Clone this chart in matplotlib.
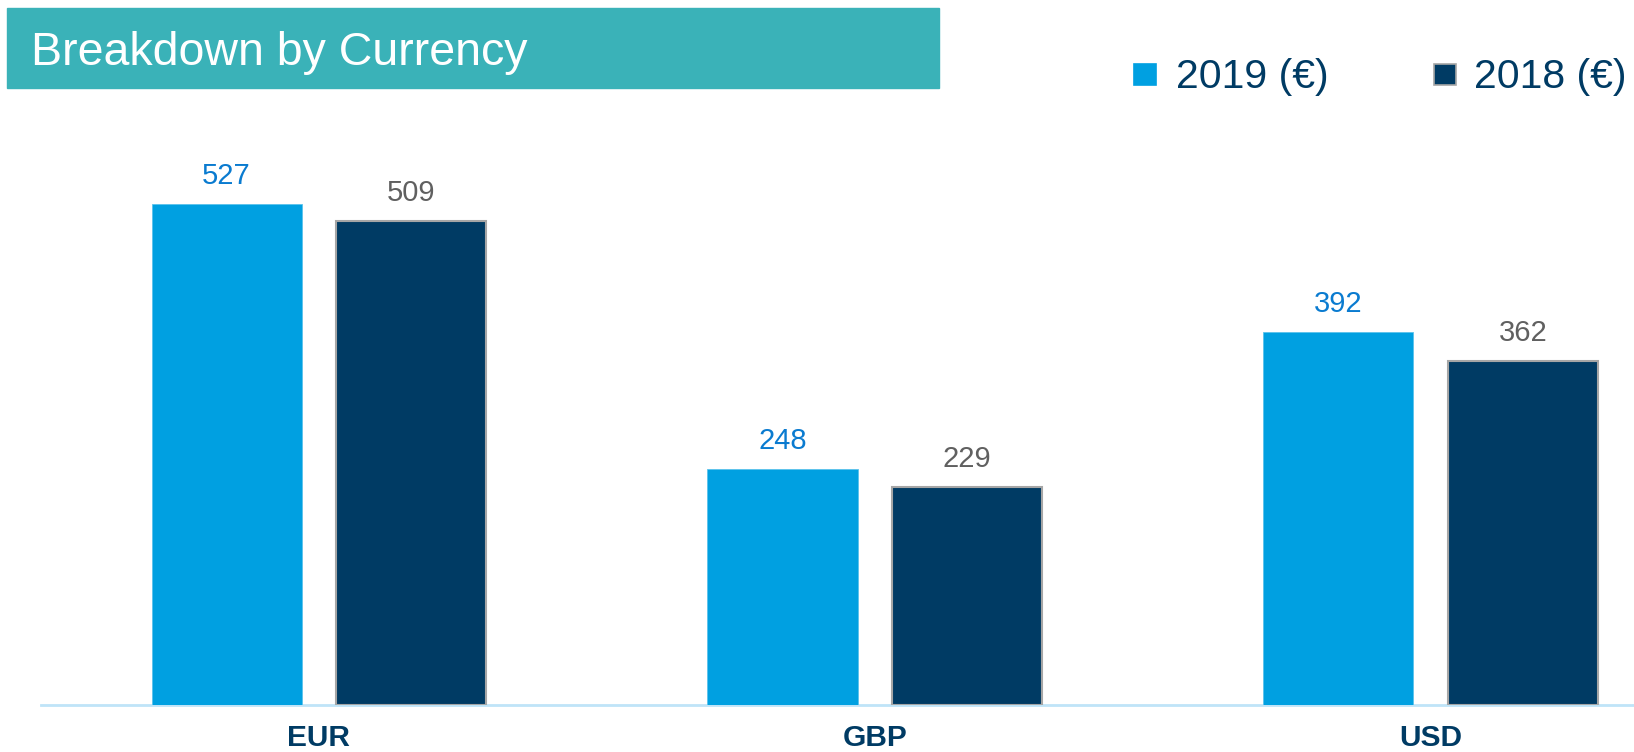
import matplotlib.pyplot as plt
from matplotlib.patches import Rectangle
import numpy as np

plt.rcParams['font.family'] = ['Liberation Sans', 'DejaVu Sans']

# data
currencies = ['EUR', 'GBP', 'USD']
values_2019 = [527, 248, 392]
values_2018 = [509, 229, 362]
series_names = ['2019 (€)', '2018 (€)']

c2019 = '#00A0E1'
c2018 = '#003B64'
navy_txt = '#003B64'

W, H = 1634, 752
fig = plt.figure(figsize=(W / 100, H / 100), dpi=100)

def fx(px):
    return px / W

def fy(py):
    return 1 - py / H

ax = fig.add_axes([fx(41), fy(705), 1 - fx(41), fy(39) - fy(705)])

x = np.arange(len(currencies))
w = 0.27
off = 0.166
b1 = ax.bar(x - off, values_2019, w, color=c2019, edgecolor='#5BC2EC', linewidth=0.6, zorder=2)
b2 = ax.bar(x + off, values_2018, w, color=c2018, edgecolor='#A6A6A6', linewidth=1.5, zorder=2)

for rect, v in zip(b1, values_2019):
    ax.annotate(str(v), (rect.get_x() + rect.get_width() / 2, v), xytext=(0, 10),
                textcoords='offset points', ha='center', va='bottom', fontsize=21, color='#0A7BD0')
for rect, v in zip(b2, values_2018):
    ax.annotate(str(v), (rect.get_x() + rect.get_width() / 2, v), xytext=(0, 10),
                textcoords='offset points', ha='center', va='bottom', fontsize=21, color='#606060')

ax.set_xlim(-0.5, 2.366)
ax.set_ylim(0, 700)
ax.set_xticks(x)
ax.set_xticklabels(currencies, fontsize=21.5, fontweight='bold', color=navy_txt)
ax.tick_params(axis='x', length=0, pad=14)
ax.set_yticks([])
for s in ['top', 'right', 'left']:
    ax.spines[s].set_visible(False)
ax.spines['bottom'].set_color('#BFE4F8')
ax.spines['bottom'].set_linewidth(2)
ax.spines['bottom'].set_zorder(1)

# title banner
fig.patches.append(Rectangle((fx(7), fy(88)), fx(939) - fx(7), fy(8) - fy(88),
                             transform=fig.transFigure, color='#3AB2B8', zorder=0))
fig.text(fx(31), fy(65), 'Breakdown by Currency', fontsize=33.5, color='white', va='baseline')

# legend
for sq_x, txt_x, name, col, ec in [(1134, 1176, series_names[0], c2019, c2019),
                                    (1434, 1474, series_names[1], c2018, '#A6A6A6')]:
    fig.patches.append(Rectangle((fx(sq_x), fy(85)), fx(22), fy(64) - fy(85),
                                 transform=fig.transFigure, facecolor=col, edgecolor=ec, lw=1.2))
    fig.text(fx(txt_x), fy(77), name, fontsize=29.5, color=navy_txt, va='center')

fig.savefig('out.png', dpi=100)
